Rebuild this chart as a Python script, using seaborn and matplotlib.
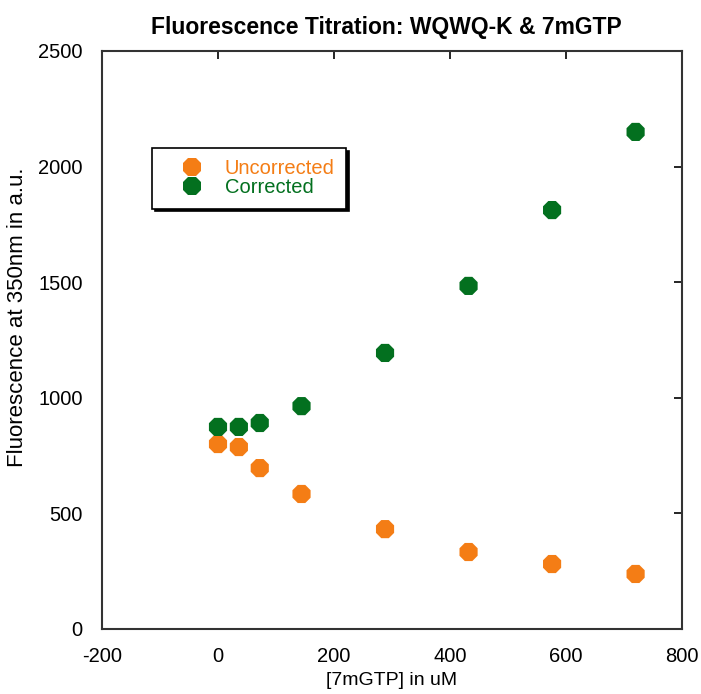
import matplotlib
matplotlib.use("Agg")
import matplotlib.pyplot as plt
import seaborn as sns
import pandas as pd

conc = [0, 36, 72, 144, 288, 432, 576, 720]
uncorrected = [800, 787, 696, 584, 432, 333, 281, 238]
corrected = [874, 874, 891, 964, 1194, 1484, 1812, 2150]
series_names = ["Uncorrected", "Corrected"]
colors = ["#F47D15", "#03701F"]
x_ticks = [-200, 0, 200, 400, 600, 800]
y_ticks = [0, 500, 1000, 1500, 2000, 2500]

df = pd.DataFrame({
    "conc": conc * 2,
    "fluor": uncorrected + corrected,
    "series": [series_names[0]] * len(conc) + [series_names[1]] * len(conc),
})

sns.set_style("white")
plt.rcParams["font.family"] = ["Liberation Sans", "DejaVu Sans"]
plt.rcParams["axes.unicode_minus"] = False
plt.rcParams["text.color"] = "black"
plt.rcParams["axes.labelcolor"] = "black"

fig = plt.figure(figsize=(7.01, 6.94), dpi=100)
ax = fig.add_axes([102 / 701, 1 - 629 / 694, 580 / 701, 578 / 694])

sns.scatterplot(data=df, x="conc", y="fluor", hue="series", hue_order=series_names,
                palette=colors, marker="8", s=200, linewidth=0, ax=ax, legend=True)

ax.set_xlim(-200, 800)
ax.set_ylim(0, 2500)
ax.set_xticks(x_ticks)
ax.set_yticks(y_ticks)
ax.tick_params(direction="in", length=6, width=1.2, top=True, right=True,
               labelsize=14.5, colors="black")
ax.tick_params(axis="y", pad=14)
ax.tick_params(axis="x", pad=13)
for sp in ax.spines.values():
    sp.set_visible(True)
    sp.set_color("#333333")
    sp.set_linewidth(1.5)

ax.set_xlabel("[7mGTP] in uM", fontsize=14, color="black")
ax.xaxis.set_label_coords(0.5, -0.075)
ax.set_ylabel("Fluorescence at 350nm in a.u.", fontsize=16, color="black")
ax.yaxis.set_label_coords(-0.128, 0.54)
ax.set_title("Fluorescence Titration: WQWQ-K & 7mGTP", fontsize=16.5, fontweight="bold",
             pad=12, x=0.491, color="black")

handles, labels = ax.get_legend_handles_labels()
leg = ax.legend(handles, labels, loc="upper left", bbox_to_anchor=(0.086, 0.832),
                borderaxespad=0, frameon=True, fancybox=False,
                shadow={"color": "black", "alpha": 1.0},
                fontsize=14.5, handletextpad=0.15, borderpad=0.56, labelspacing=0.0,
                handlelength=2.9, markerscale=1.0)
leg.get_frame().set_edgecolor("black")
leg.get_frame().set_linewidth(1.2)
for txt, c in zip(leg.get_texts(), colors):
    txt.set_color(c)

fig.savefig("out.png", dpi=100)
